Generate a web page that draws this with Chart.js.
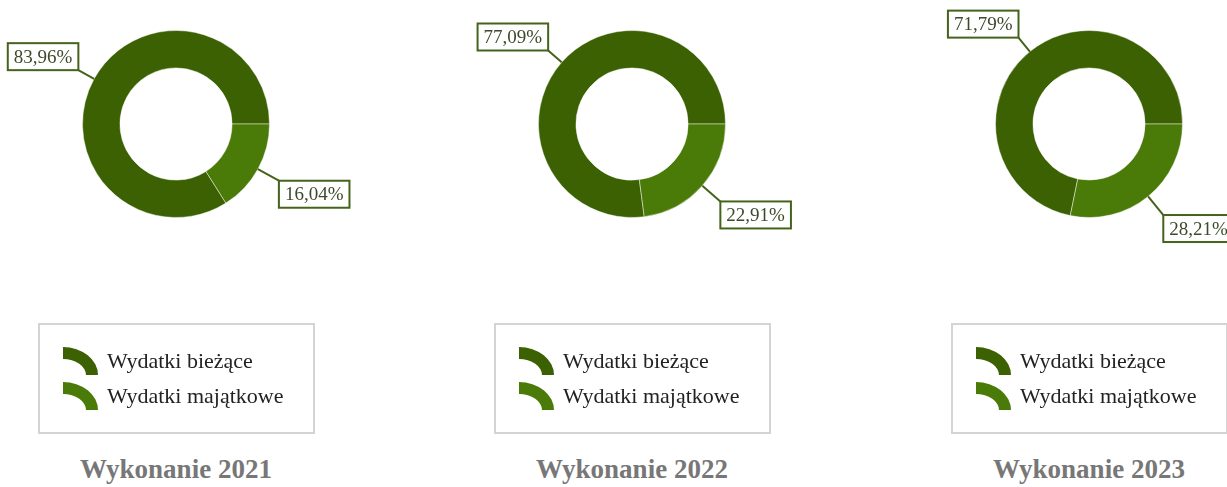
<!DOCTYPE html>
<html lang="pl">
<head>
    <meta charset="UTF-8">
    <title>Struktura wydatków</title>
    <script src="https://cdn.jsdelivr.net/npm/chart.js"></script>
    <style>
        html, body {
            margin: 0;
            padding: 0;
            background: #ffffff;
            width: 1227px;
            height: 487px;
            overflow: hidden;
        }
        .panel {
            position: absolute;
            top: 0;
            width: 352px;
            height: 487px;
        }
        .panel canvas {
            position: absolute;
            left: 0;
            top: 0;
        }
        .legend {
            position: absolute;
            left: 38px;
            top: 323px;
            width: 273px;
            height: 107px;
            border: 2px solid #d4d4d4;
            font-family: "Liberation Serif", "Times New Roman", serif;
            font-size: 22px;
            color: #222;
        }
        .legend-item {
            position: absolute;
            left: 22px;
            height: 30px;
            display: flex;
            align-items: center;
        }
        .legend-item canvas {
            position: static;
            margin-right: 8px;
        }
        .title {
            position: absolute;
            left: 0;
            width: 352px;
            top: 454px;
            text-align: center;
            font-family: "Liberation Serif", "Times New Roman", serif;
            font-weight: bold;
            font-size: 27px;
            color: #777777;
        }
    </style>
</head>
<body>
<div id="app"></div>
<script>
    // data
    const categories = ['Wydatki bieżące', 'Wydatki majątkowe'];
    const years = ['Wykonanie 2021', 'Wykonanie 2022', 'Wykonanie 2023'];
    const currentShare = [83.96, 77.09, 71.79];
    const capitalShare = [16.04, 22.91, 28.21];

    const colors = ['#3b6103', '#4a7a08'];
    const panelLeft = [0, 456, 913];

    // boxed value labels with a leader line out of each slice
    const calloutLabels = {
        id: 'calloutLabels',
        afterDatasetsDraw(chart) {
            const ctx = chart.ctx;
            const meta = chart.getDatasetMeta(0);
            const values = chart.data.datasets[0].data;
            ctx.save();
            ctx.font = '19px "Liberation Serif", "Times New Roman", serif';
            ctx.lineWidth = 2;
            ctx.strokeStyle = '#45631b';
            meta.data.forEach((arc, i) => {
                const p = arc.getProps(['x', 'y', 'startAngle', 'endAngle', 'outerRadius'], true);
                const mid = (p.startAngle + p.endAngle) / 2;
                const cos = Math.cos(mid), sin = Math.sin(mid);
                const len = sin < 0 ? 18 : 24;
                const x0 = p.x + cos * p.outerRadius, y0 = p.y + sin * p.outerRadius;
                const x1 = x0 + cos * len, y1 = y0 + sin * len;
                const text = values[i].toFixed(2).replace('.', ',') + '%';
                const w = ctx.measureText(text).width + 12, h = 27;
                const bx = cos < 0 ? x1 - w : x1;
                const by = sin < 0 ? y1 - h : y1;

                ctx.beginPath();
                ctx.moveTo(x0, y0);
                ctx.lineTo(x1, y1);
                ctx.stroke();

                ctx.fillStyle = '#ffffff';
                ctx.fillRect(bx, by, w, h);
                ctx.strokeRect(bx, by, w, h);

                ctx.fillStyle = '#3b4a2a';
                ctx.textAlign = 'center';
                ctx.textBaseline = 'middle';
                ctx.fillText(text, bx + w / 2, by + h / 2 + 1);
            });
            ctx.restore();
        }
    };

    // little quarter-ring used as the legend marker
    function arcIcon(color) {
        const c = document.createElement('canvas');
        c.width = 37;
        c.height = 30;
        const g = c.getContext('2d');
        g.fillStyle = color;
        g.beginPath();
        g.ellipse(1, 29, 35, 28, 0, -Math.PI / 2, 0);
        g.ellipse(1, 29, 23, 16, 0, 0, -Math.PI / 2, true);
        g.closePath();
        g.fill();
        return c;
    }

    const app = document.getElementById('app');

    years.forEach((year, k) => {
        const panel = document.createElement('div');
        panel.className = 'panel';
        panel.style.left = panelLeft[k] + 'px';

        const canvas = document.createElement('canvas');
        canvas.width = 352;
        canvas.height = 250;
        panel.appendChild(canvas);

        const legend = document.createElement('div');
        legend.className = 'legend';
        panel.appendChild(legend);

        const title = document.createElement('div');
        title.className = 'title';
        title.textContent = year;
        panel.appendChild(title);

        app.appendChild(panel);

        const chart = new Chart(canvas, {
            type: 'doughnut',
            data: {
                labels: categories,
                datasets: [{
                    data: [currentShare[k], capitalShare[k]],
                    backgroundColor: colors,
                    borderColor: 'rgba(255,255,255,0.45)',
                    borderWidth: 1
                }]
            },
            options: {
                responsive: false,
                animation: false,
                cutout: '60%',
                // first slice ends exactly at 3 o'clock
                rotation: 90 + capitalShare[k] * 3.6,
                layout: { padding: { top: 30, bottom: 32 } },
                plugins: {
                    legend: { display: false },
                    tooltip: { enabled: false }
                }
            },
            plugins: [calloutLabels]
        });

        // html legend built from the chart's own labels and colours
        chart.data.labels.forEach((label, i) => {
            const item = document.createElement('div');
            item.className = 'legend-item';
            item.style.top = (21 + i * 35) + 'px';
            item.appendChild(arcIcon(chart.data.datasets[0].backgroundColor[i]));
            const span = document.createElement('span');
            span.textContent = label;
            item.appendChild(span);
            legend.appendChild(item);
        });
    });
</script>
</body>
</html>
